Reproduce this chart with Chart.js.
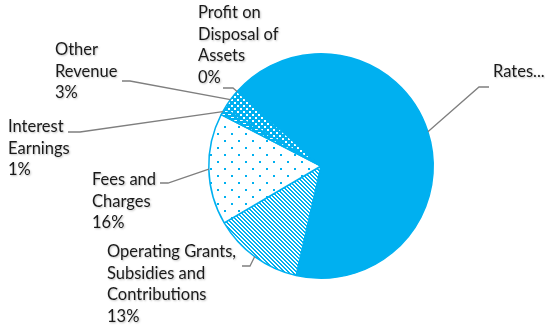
<!DOCTYPE html>
<html>
<head>
<meta charset="utf-8">
<script src="https://cdn.jsdelivr.net/npm/chart.js@4/dist/chart.umd.min.js"></script>
<style>
  html, body { margin: 0; padding: 0; background: #fff; }
  #wrap { width: 545px; height: 329px; position: relative; }
</style>
</head>
<body>
<div id="wrap"><canvas id="mychart"></canvas></div>
<script>
// revenue split, in percent
const categories = ['Rates...', 'Operating Grants, Subsidies and Contributions', 'Fees and Charges',
    'Interest Earnings', 'Other Revenue', 'Profit on Disposal of Assets'];
const shares = [67, 13, 16, 1, 3, 0];

const BLUE = '#00B0F0';

// small repeating tiles for the hatched slices
function makePattern(size, draw) {
    const tile = document.createElement('canvas');
    tile.width = size;
    tile.height = size;
    const t = tile.getContext('2d');
    draw(t);
    return t.createPattern(tile, 'repeat');
}

const stripes = makePattern(4, function(t) {
    t.fillStyle = '#fff';
    t.fillRect(0, 0, 4, 4);
    t.fillStyle = BLUE;
    for (let i = 0; i < 4; i++) {
        t.fillRect(i, i, 1, 1);
        t.fillRect((i + 1) % 4, i, 1, 1);
    }
});

const sparseDots = makePattern(14, function(t) {
    t.fillStyle = '#fff';
    t.fillRect(0, 0, 14, 14);
    t.fillStyle = BLUE;
    t.fillRect(0, 0, 2, 2);
    t.fillRect(7, 7, 2, 2);
});

const whiteDots = makePattern(6, function(t) {
    t.fillStyle = BLUE;
    t.fillRect(0, 0, 6, 6);
    t.fillStyle = '#fff';
    t.fillRect(0, 0, 2, 2);
    t.fillRect(3, 3, 2, 2);
});

const whiteDashes = makePattern(6, function(t) {
    t.fillStyle = BLUE;
    t.fillRect(0, 0, 6, 6);
    t.fillStyle = '#fff';
    t.fillRect(0, 0, 3, 1);
    t.fillRect(3, 3, 3, 1);
});

const fills = [BLUE, stripes, sparseDots, whiteDashes, whiteDots, BLUE];

// where each label sits and how its leader line bends
const labelLayout = [
    { lines: ['Rates...'], x: 493, y: 72, from: [489, 87], elbow: [479, 87] },
    { lines: ['Operating Grants,', 'Subsidies and', 'Contributions'], x: 107, y: 252, from: [242, 266], elbow: [250, 266] },
    { lines: ['Fees and', 'Charges'], x: 92, y: 180, from: [160, 183], elbow: [168, 183] },
    { lines: ['Interest', 'Earnings'], x: 8, y: 127, from: [68, 132], elbow: [80, 132] },
    { lines: ['Other', 'Revenue'], x: 55, y: 50, from: [122, 81], elbow: [130, 81] },
    { lines: ['Profit on', 'Disposal of', 'Assets'], x: 198, y: 13, from: [223, 88], elbow: [233, 88] }
];

const calloutLabels = {
    id: 'calloutLabels',
    afterDatasetsDraw(chart) {
        const ctx = chart.ctx;
        const arcs = chart.getDatasetMeta(0).data;
        const total = shares.reduce((a, b) => a + b, 0);
        ctx.save();
        arcs.forEach(function(arc, i) {
            const p = arc.getProps(['x', 'y', 'startAngle', 'endAngle', 'outerRadius'], true);
            const mid = (p.startAngle + p.endAngle) / 2;
            const px = p.x + Math.cos(mid) * p.outerRadius;
            const py = p.y + Math.sin(mid) * p.outerRadius;
            const lay = labelLayout[i];

            ctx.strokeStyle = '#7f7f7f';
            ctx.lineWidth = 1.3;
            ctx.beginPath();
            ctx.moveTo(lay.from[0], lay.from[1]);
            ctx.lineTo(lay.elbow[0], lay.elbow[1]);
            ctx.lineTo(px, py);
            ctx.stroke();

            const text = lay.lines.slice();
            if (i !== 0) text.push(Math.round(shares[i] / total * 100) + '%');
            ctx.font = '16.5px Lato, "Open Sans", sans-serif';
            ctx.fillStyle = '#1a1a1a';
            ctx.textBaseline = 'middle';
            ctx.textAlign = 'left';
            ctx.shadowColor = 'rgba(0,0,0,0.25)';
            ctx.shadowBlur = 2;
            ctx.shadowOffsetX = 1;
            ctx.shadowOffsetY = 1;
            text.forEach(function(line, k) {
                ctx.fillText(line, lay.x, lay.y + k * 21.5);
            });
            ctx.shadowColor = 'transparent';
        });
        ctx.restore();
    }
};

const abc = document.getElementById('mychart').getContext('2d');
new Chart(abc, {
    type: 'pie',
    data: {
        labels: categories,
        datasets: [{
            data: shares,
            backgroundColor: fills,
            borderColor: BLUE,
            borderWidth: 1.5
        }]
    },
    options: {
        responsive: true,
        maintainAspectRatio: false,
        animation: false,
        rotation: 311.6,
        layout: { padding: { left: 208, right: 111, top: 53, bottom: 50 } },
        plugins: {
            legend: { display: false },
            tooltip: { enabled: false }
        }
    },
    plugins: [calloutLabels]
});
</script>
</body>
</html>
